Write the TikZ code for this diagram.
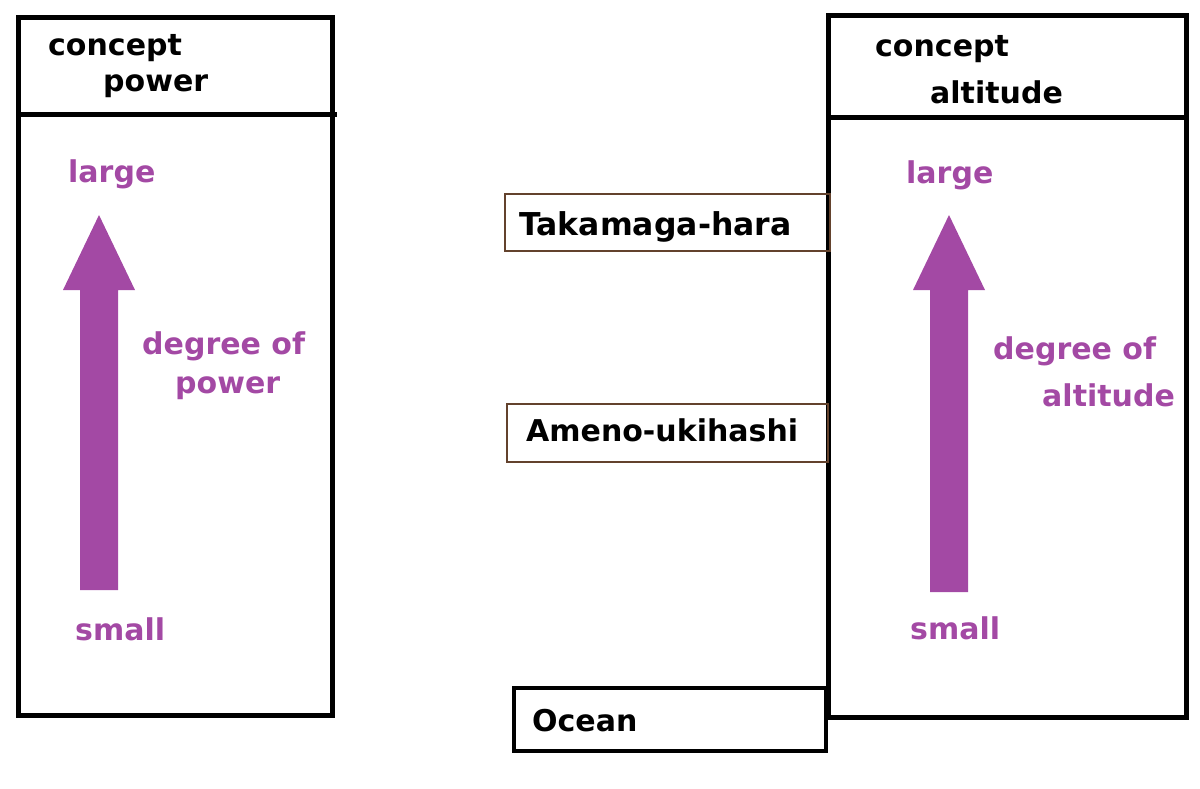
\documentclass[tikz,border=0pt]{standalone}
\usepackage{fontspec}
\setmainfont{DejaVu Sans}
\definecolor{degpurple}{RGB}{163,73,164}
\definecolor{boxbrown}{RGB}{99,66,45}
\tikzset{
  lbl/.style={anchor=base west, inner sep=0pt, font=\bfseries\fontsize{30}{36}\selectfont},
  deg/.style={lbl, text=degpurple},
  col/.style={line width=5pt},
  place/.style={line width=2.5pt, draw=boxbrown}
}
\begin{document}
\begin{tikzpicture}[x=1pt,y=-1pt]
\useasboundingbox (0,0) rectangle (1200,788);

% power column
\draw[col] (18,17) rectangle (332,715);
\draw[col] (18,114) -- (337,114);
\node[lbl] (powcon) at (48,55) {concept};
\node[lbl] (pow) at (103,91) {power};
\node[deg] (powlarge) at (68,182) {large};
\node[deg] (powdeg) at (142,354) {degree of};
\node[deg] (powdeg2) at (175,393) {power};
\node[deg] (powsmall) at (75,640) {small};
\fill[degpurple] (80,590) -- (80,290) -- (63,290) -- (99,215) -- (135,290) -- (118,290) -- (118,590) -- cycle;

% altitude column
\draw[col] (828,15) rectangle (1186,717);
\draw[col] (828,117) -- (1188,117);
\node[lbl] (altcon) at (875,56) {concept};
\node[lbl] (alt) at (930,103) {altitude};
\node[deg] (altlarge) at (906,183) {large};
\node[deg] (altdeg) at (993,359) {degree of};
\node[deg] (altdeg2) at (1042,406) {altitude};
\node[deg] (altsmall) at (910,639) {small};
\fill[degpurple] (930,592) -- (930,290) -- (913,290) -- (949,215) -- (985,290) -- (968,290) -- (968,592) -- cycle;

% places
\draw[place] (505,194) rectangle (830,251);
\node[lbl, font=\bfseries\fontsize{31.5}{38}\selectfont] (taka) at (519,235) {Takamaga-hara};
\draw[place] (507,404) rectangle (828,462);
\node[lbl] (ameno) at (526,441) {Ameno-ukihashi};
\draw[line width=3.5pt] (514,688) rectangle (826,751);
\node[lbl] (ocean) at (532,731) {Ocean};
\end{tikzpicture}
\end{document}
